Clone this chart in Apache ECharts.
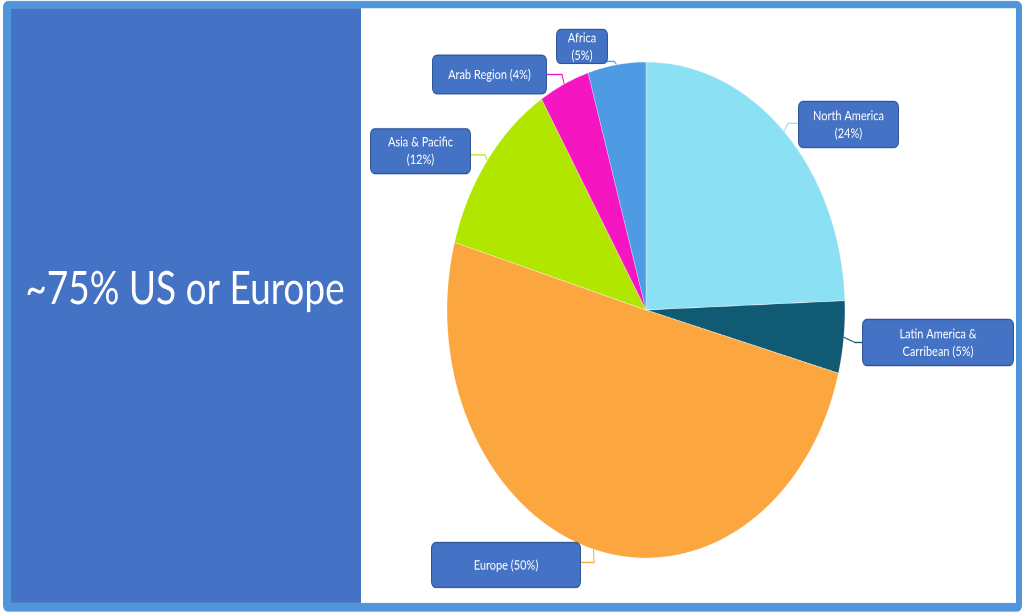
<!DOCTYPE html>
<html>
<head>
<meta charset="utf-8">
<script src="https://cdn.jsdelivr.net/npm/echarts@6/dist/echarts.min.js"></script>
<style>
  html, body { margin: 0; padding: 0; background: #ffffff; }
  #wrap { width: 1024px; height: 612px; overflow: hidden; position: relative; }
  #chart { width: 1024px; height: 491px; transform: scaleY(1.24644); transform-origin: 0 0; }
</style>
</head>
<body>
<div id="wrap"><div id="chart"></div></div>
<script>
// ---- data ----
const categories = ['North America', 'Latin America & Carribean', 'Europe', 'Asia & Pacific', 'Arab Region', 'Africa'];
const shares = [24.4, 4.7, 50.3, 11.8, 4.1, 4.7];
const labelTexts = ['North America\n(24%)', 'Latin America &\nCarribean (5%)', 'Europe (50%)', 'Asia & Pacific\n(12%)', 'Arab Region (4%)', 'Africa\n(5%)'];
const headline = '~75% US or Europe';

// ---- style / layout ----
const sliceColors = ['#8ce0f3', '#105a73', '#fba63e', '#b1e601', '#f516c1', '#4e9ae3'];
const labelCenter = [[848.5, 99.9], [938, 274.8], [506, 453.3], [420.5, 121.2], [489.5, 59.8], [582, 37.3]];
const labelSize = [[99, 36], [150, 36], [148, 35], [99, 35], [113, 30], [50, 26.5]];
const labelSide = ['left', 'left', 'right', 'right', 'right', 'right'];
const elbowGap = [11, 8, 14, 15, 16, 7];
const lineDy = [-1, 0, -2, 3, 0, 12];

const chart = echarts.init(document.getElementById('chart'), null, { renderer: 'canvas', devicePixelRatio: 2 });

const pieData = categories.map((c, i) => ({
  name: c,
  value: shares[i],
  itemStyle: { color: sliceColors[i] },
  label: { width: labelSize[i][0], height: labelSize[i][1] }
}));

const option = {
  animation: false,
  backgroundColor: '#ffffff',
  graphic: [
    { type: 'rect', z: 0, shape: { x: 3, y: 0.8, width: 1019, height: 490, r: 5 }, style: { fill: '#4e95da' } },
    { type: 'rect', z: 1, shape: { x: 11, y: 6.6, width: 1005, height: 477.2 }, style: { fill: '#ffffff' } },
    { type: 'rect', z: 1, shape: { x: 11, y: 6.6, width: 350, height: 477.2 }, style: { fill: '#4472c4' } },
    { type: 'text', z: 2, x: 185, y: 232,
      style: { text: headline, fill: '#ffffff', font: '37px Lato', textAlign: 'center', textVerticalAlign: 'middle' } }
  ],
  series: [{
    type: 'pie',
    z: 3,
    center: [646, 248.7],
    radius: 199,
    startAngle: 90,
    clockwise: true,
    avoidLabelOverlap: false,
    data: pieData,
    itemStyle: { borderColor: 'rgba(255,255,255,0.55)', borderWidth: 0.6 },
    label: {
      show: true,
      position: 'outside',
      formatter: p => labelTexts[p.dataIndex],
      color: '#ffffff',
      fontFamily: 'Lato',
      fontSize: 11,
      lineHeight: 14,
      align: 'center',
      verticalAlign: 'middle',
      backgroundColor: '#4472c4',
      borderColor: '#2f5597',
      borderWidth: 1,
      borderRadius: 4,
      padding: 0
    },
    labelLine: { show: true, length: 6, length2: 6, lineStyle: { width: 1 } },
    labelLayout: function (params) {
      const i = params.dataIndex;
      const c = labelCenter[i];
      const sz = labelSize[i];
      const res = { x: c[0], y: c[1], align: 'center', verticalAlign: 'middle' };
      if (params.labelLinePoints && params.labelLinePoints.length) {
        const a = params.labelLinePoints[0];
        const ly = c[1] + lineDy[i];
        let edgeX, elbowX;
        if (labelSide[i] === 'left') {
          edgeX = c[0] - sz[0] / 2;
          elbowX = edgeX - elbowGap[i];
        } else {
          edgeX = c[0] + sz[0] / 2;
          elbowX = edgeX + elbowGap[i];
        }
        res.labelLinePoints = [[a[0], a[1]], [elbowX, ly], [edgeX, ly]];
      }
      return res;
    }
  }]
};
chart.setOption(option);
</script>
</body>
</html>
